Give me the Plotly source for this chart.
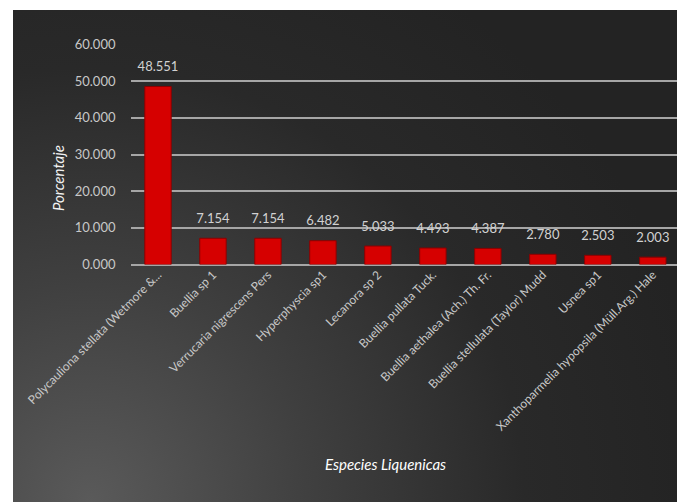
import plotly.graph_objects as go

species = [
    "Polycauliona stellata (Wetmore &...",
    "Buellia sp 1",
    "Verrucaria nigrescens Pers",
    "Hyperphyscia sp1",
    "Lecanora sp 2",
    "Buellia pullata Tuck.",
    "Buellia aethalea (Ach.) Th. Fr.",
    "Buellia stellulata (Taylor) Mudd",
    "Usnea sp1",
    "Xanthoparmelia hypopsila (Müll.Arg.) Hale",
]
porcentaje = [48.551, 7.154, 7.154, 6.482, 5.033, 4.493, 4.387, 2.780, 2.503, 2.003]
y_ticks = [0, 10, 20, 30, 40, 50, 60]

W, H = 677, 502
FONT = "Lato"

fig = go.Figure()

# background gradient panel (axes x/y, drawn first, lighter at bottom-left)
R = 620
cx, cy = 90, 0
fig.add_trace(go.Scatter(
    x=[cx - R, cx + R, cx + R, cx - R, cx - R],
    y=[cy - R, cy - R, cy + R, cy + R, cy - R],
    fill="toself", mode="lines", line=dict(width=0),
    fillgradient=dict(type="radial",
                      colorscale=[[0, "#5a5a5a"], [0.35, "#404040"], [0.7, "#292929"], [1, "#232323"]]),
    hoverinfo="skip", showlegend=False, xaxis="x", yaxis="y",
))

# bars
fig.add_trace(go.Bar(
    x=species, y=porcentaje, xaxis="x2", yaxis="y2",
    marker=dict(color="#d60000", line=dict(color="#8c0000", width=1)),
    width=0.48, showlegend=False, hoverinfo="x+y",
))

# value labels (invisible marker lifts the text slightly above the bar)
fig.add_trace(go.Scatter(
    x=species, y=porcentaje, xaxis="x2", yaxis="y2",
    mode="markers+text", marker=dict(size=18, opacity=0),
    texttemplate="%{y:.3f}", textposition="top center",
    textfont=dict(family=FONT, size=13, color="#d2d2d2"),
    cliponaxis=False, showlegend=False, hoverinfo="skip",
))

x0_bg = 13 / W
y1_bg = 1 - 10 / H
plot_left = 130.5 / W
y_bot = (H - 264.5) / H
y_top = (H - 44.5) / H

fig.update_layout(
    width=W, height=H,
    margin=dict(l=0, r=0, t=0, b=0, pad=0, autoexpand=False),
    paper_bgcolor="white", plot_bgcolor="rgba(0,0,0,0)",
    xaxis=dict(domain=[x0_bg, 1], range=[13, 677], visible=False, fixedrange=True, automargin=False),
    yaxis=dict(domain=[0, y1_bg], range=[0, 492], visible=False, fixedrange=True, automargin=False),
    xaxis2=dict(domain=[plot_left, 1], anchor="y2", range=[-0.5, 9.44], automargin=False,
                showgrid=False, showline=False, zeroline=False, ticks="",
                tickangle=-45, tickfont=dict(family=FONT, size=12, color="#c8c8c8")),
    yaxis2=dict(domain=[y_bot, y_top], anchor="x2", range=[0, 60], automargin=False,
                tickvals=y_ticks, tickformat=".3f",
                showgrid=True, gridcolor="#a6a6a6", gridwidth=2,
                zeroline=True, zerolinecolor="#a6a6a6", zerolinewidth=2,
                showline=False, ticks="", ticklabelstandoff=14,
                tickfont=dict(family=FONT, size=13, color="#c8c8c8")),
    annotations=[
        dict(text="Porcentaje", x=47 / W, y=(H - 143) / H, xref="paper", yref="paper",
             showarrow=False, textangle=-90,
             font=dict(family=FONT, size=15, color="#f2f2f2", style="italic")),
        dict(text="Especies Liquenicas", x=385 / W, y=(H - 475) / H, xref="paper", yref="paper",
             showarrow=False,
             font=dict(family=FONT, size=15, color="#ffffff", style="italic")),
    ],
)

fig.write_html(
    "out.html",
    config={"displayModeBar": False},
    post_script=(
        "document.documentElement.style.overflow='hidden';"
        "document.body.style.margin='0';document.body.style.overflow='hidden';"
    ),
)
